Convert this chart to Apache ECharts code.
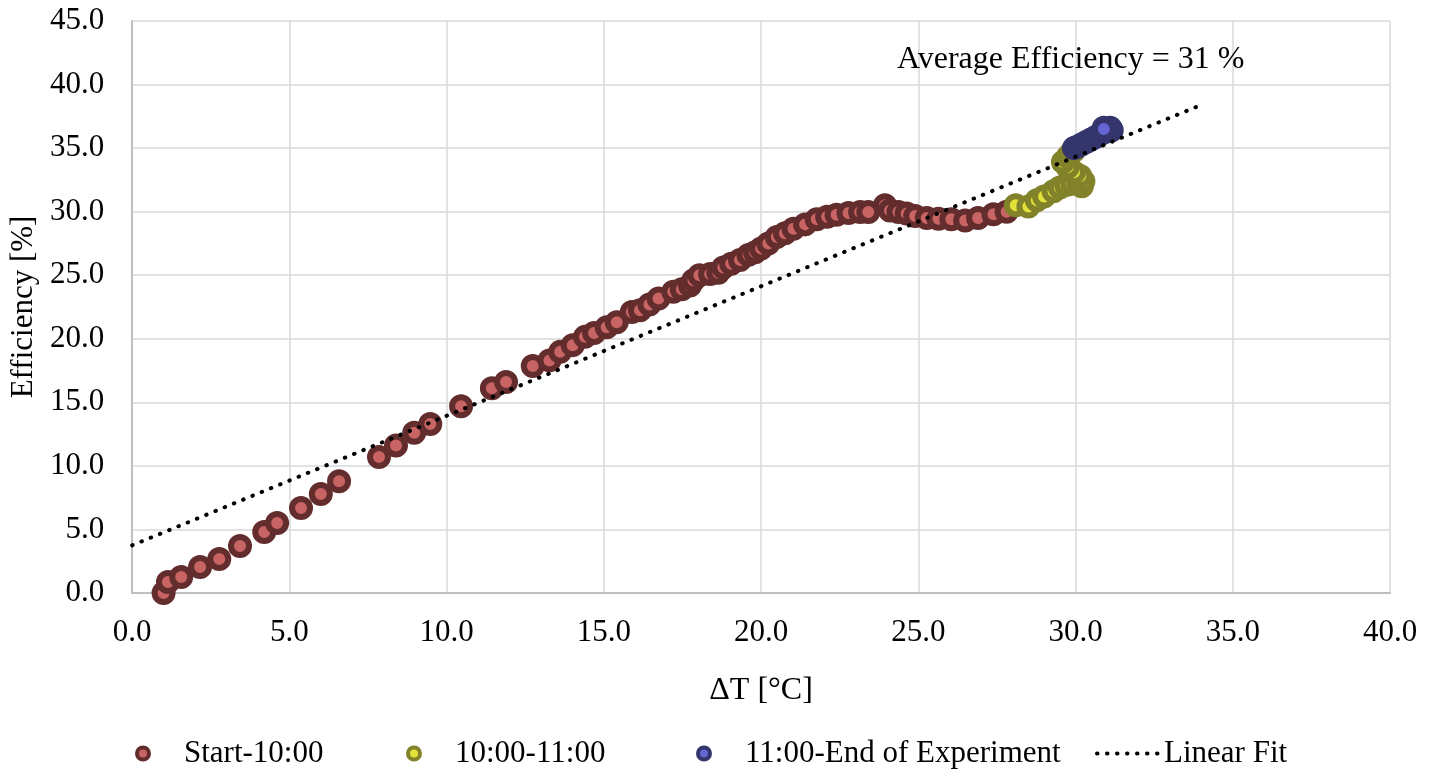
<!DOCTYPE html>
<html>
<head>
<meta charset="utf-8">
<script src="https://cdn.jsdelivr.net/npm/echarts@6/dist/echarts.min.js"></script>
<style>
  html, body { margin: 0; padding: 0; background: #ffffff; }
  #chart { width: 1437px; height: 769px; }
</style>
</head>
<body>
<div id="chart"></div>
<script>
// ΔT [°C] vs efficiency [%], grouped by time of day
const startTo1000 = [
  [1.0, 0.0], [1.14, 0.86], [1.56, 1.26], [2.16, 2.04], [2.77, 2.67], [3.43, 3.69],
  [4.2, 4.8], [4.61, 5.5], [5.37, 6.68], [6.0, 7.78], [6.58, 8.8], [7.85, 10.7],
  [8.39, 11.6], [8.97, 12.6], [9.48, 13.3], [10.46, 14.7], [11.44, 16.1], [11.89, 16.6],
  [12.74, 17.85], [13.27, 18.3], [13.61, 18.97], [14.01, 19.5], [14.4, 20.15], [14.69, 20.46],
  [15.09, 20.9], [15.41, 21.3], [15.89, 22.1], [16.15, 22.25], [16.45, 22.7], [16.74, 23.17],
  [17.21, 23.7], [17.48, 23.9], [17.74, 24.2], [17.85, 24.6], [18.04, 25.0], [18.38, 25.1],
  [18.64, 25.2], [18.8, 25.6], [19.05, 25.9], [19.33, 26.2], [19.6, 26.6], [19.81, 26.8],
  [20.0, 27.1], [20.23, 27.5], [20.5, 28.0], [20.76, 28.3], [21.03, 28.66], [21.4, 29.0],
  [21.77, 29.4], [22.1, 29.6], [22.4, 29.75], [22.78, 29.9], [23.15, 29.97], [23.41, 29.98],
  [23.94, 30.5], [24.1, 30.1], [24.37, 29.97], [24.63, 29.85], [24.9, 29.65], [25.27, 29.5],
  [25.64, 29.45], [26.05, 29.4], [26.49, 29.3], [26.9, 29.5], [27.39, 29.8], [27.81, 30.0]
];
const from1000To1100 = [
  [28.1, 30.5], [28.5, 30.4], [28.77, 30.9], [29.0, 31.2], [29.3, 31.6], [29.5, 31.9],
  [29.7, 32.1], [29.9, 32.2], [30.1, 32.2], [30.2, 32.0], [30.25, 32.4], [30.15, 32.8],
  [29.95, 33.1], [29.75, 33.5], [29.6, 33.9], [29.75, 34.3], [29.85, 34.6], [29.95, 34.8]
];
const from1100ToEnd = [
  [29.95, 35.0], [30.05, 35.1], [30.2, 35.3], [30.35, 35.5], [30.5, 35.7], [30.65, 35.9],
  [30.8, 36.1], [31.0, 36.3], [31.15, 36.4], [31.1, 36.6], [30.9, 36.6], [30.9, 36.5]
];
const linearFit = [[0, 3.75], [33.9, 38.3]];

const xTicks = { min: 0, max: 40, step: 5 };
const yTicks = { min: 0, max: 45, step: 5 };

const seriesNames = ['Start-10:00', '10:00-11:00', '11:00-End of Experiment', 'Linear Fit'];
const averageLabel = 'Average Efficiency = 31 %';

const FONT = '"Liberation Serif", "Times New Roman", serif';
const FS = 31;
const TXT = '#000000';

const palette = [
  { fill: '#c86464', border: '#632d2d' },
  { fill: '#e2e23a', border: '#82822a' },
  { fill: '#6464d2', border: '#35356e' }
];

const fitDash = [0.5, 9.5];

function scatterSeries(name, data, c, z) {
  return {
    name: name,
    type: 'scatter',
    data: data,
    symbol: 'circle',
    symbolSize: 18,
    z: z,
    itemStyle: { color: c.fill, borderColor: c.border, borderWidth: 6, opacity: 1 },
    emphasis: { disabled: true }
  };
}

function scatterLegend(name, left) {
  return {
    data: [{ name: name, icon: 'circle' }],
    left: left,
    top: 733,
    orient: 'horizontal',
    itemWidth: 72,
    itemHeight: 12,
    itemStyle: { borderWidth: 4 },
    textStyle: { fontFamily: FONT, fontSize: FS, color: TXT },
    selectedMode: false
  };
}

const chart = echarts.init(document.getElementById('chart'), null, { renderer: 'canvas' });

chart.setOption({
  animation: false,
  backgroundColor: '#ffffff',
  textStyle: { fontFamily: FONT },
  grid: { left: 132, right: 47, top: 21, bottom: 176, containLabel: false },
  title: {
    text: averageLabel,
    left: 897,
    top: 44,
    padding: 0,
    textStyle: { fontFamily: FONT, fontSize: 32, fontWeight: 'normal', color: TXT }
  },
  legend: [
    scatterLegend(seriesNames[0], 130),
    scatterLegend(seriesNames[1], 401),
    scatterLegend(seriesNames[2], 691),
    {
      data: [{ name: seriesNames[3] }],
      left: 1090,
      top: 733,
      itemWidth: 62,
      itemHeight: 11,
      itemStyle: { color: 'rgba(0,0,0,0)', borderWidth: 0, opacity: 0 },
      lineStyle: { color: '#000000', width: 4, type: fitDash, cap: 'round', opacity: 1 },
      textStyle: { fontFamily: FONT, fontSize: FS, color: TXT },
      selectedMode: false
    }
  ],
  xAxis: {
    type: 'value',
    min: xTicks.min,
    max: xTicks.max,
    interval: xTicks.step,
    name: 'ΔT [°C]',
    nameLocation: 'middle',
    nameGap: 82,
    nameTextStyle: { fontFamily: FONT, fontSize: 32, color: TXT },
    axisLine: { show: true, lineStyle: { color: '#bfbfbf', width: 2 } },
    axisTick: { show: false },
    axisLabel: {
      margin: 24,
      fontFamily: FONT, fontSize: FS, color: TXT,
      formatter: v => v.toFixed(1)
    },
    splitLine: { show: true, lineStyle: { color: '#d9d9d9', width: 1.5 } }
  },
  yAxis: {
    type: 'value',
    min: yTicks.min,
    max: yTicks.max,
    interval: yTicks.step,
    name: 'Efficiency [%]',
    nameLocation: 'middle',
    nameRotate: 90,
    nameGap: 90,
    nameTextStyle: { fontFamily: FONT, fontSize: FS, color: TXT },
    axisLine: { show: true, lineStyle: { color: '#bfbfbf', width: 2 } },
    axisTick: { show: false },
    axisLabel: {
      margin: 28,
      fontFamily: FONT, fontSize: FS, color: TXT,
      formatter: v => v.toFixed(1)
    },
    splitLine: { show: true, lineStyle: { color: '#d9d9d9', width: 1.5 } }
  },
  series: [
    scatterSeries(seriesNames[0], startTo1000, palette[0], 2),
    scatterSeries(seriesNames[1], from1000To1100, palette[1], 3),
    scatterSeries(seriesNames[2], from1100ToEnd, palette[2], 4),
    {
      name: seriesNames[3],
      type: 'line',
      data: linearFit,
      symbol: 'none',
      showSymbol: false,
      z: 6,
      color: '#000000',
      lineStyle: { color: '#000000', width: 4, type: fitDash, cap: 'round' },
      emphasis: { disabled: true }
    }
  ]
});
</script>
</body>
</html>
